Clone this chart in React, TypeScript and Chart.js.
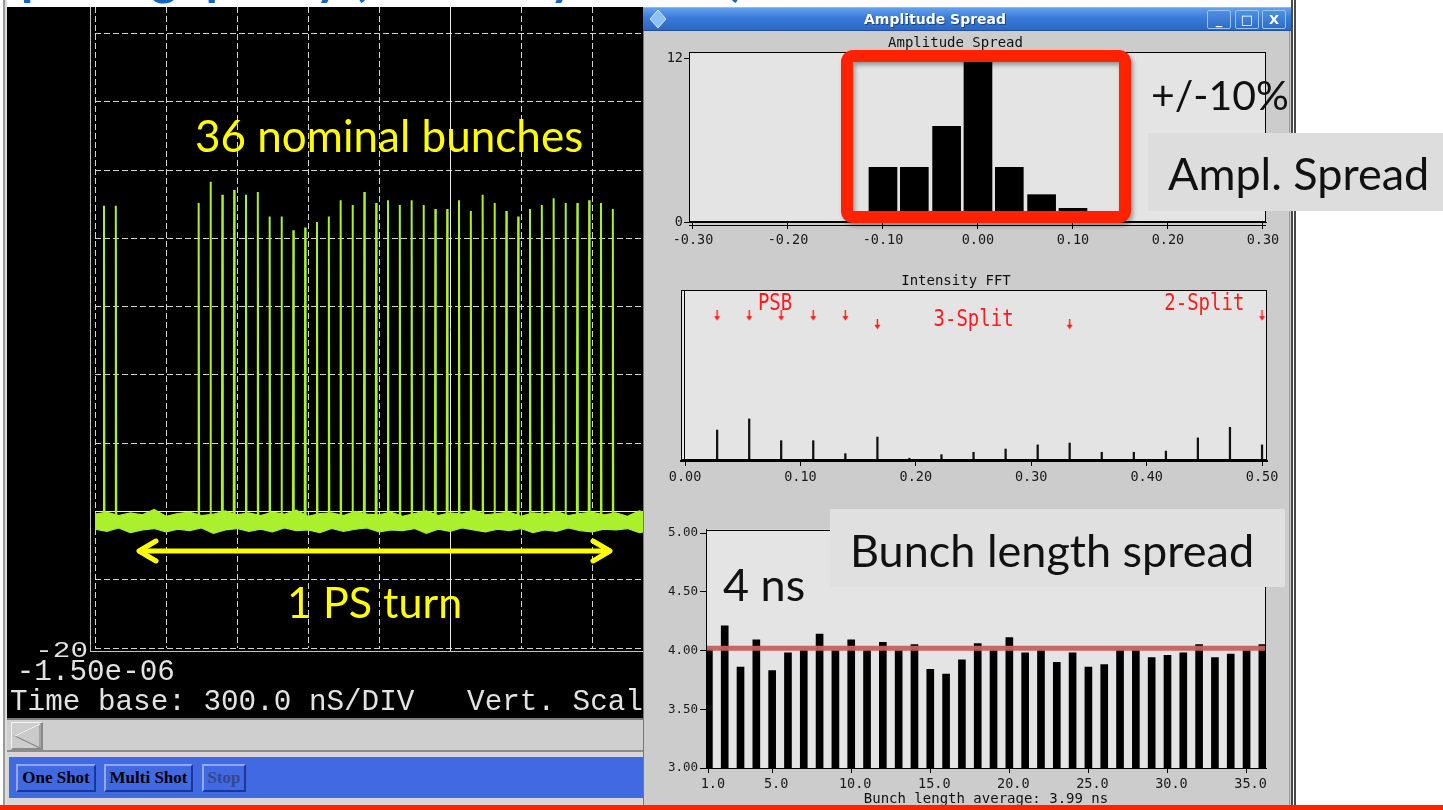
import React, { useEffect, useRef } from 'react';
import { Chart, registerables } from 'chart.js';

Chart.register(...registerables);

const MONO = '"DejaVu Sans Mono", monospace';
const SCOPE_FONT = '"Liberation Mono", monospace';
const SLIDE_FONT = 'Lato, "Open Sans", sans-serif';
const TRACE = '#aaf02c';

// ---------------- Oscilloscope: bunch train over one PS turn ----------------
const bunchTimesNs = [
  -1462, -1412, -1062, -1012, -962, -912, -862, -812, -762, -712, -662, -612, -562,
  -512, -462, -412, -362, -312, -262, -212, -162, -112, -62, -12, 38, 88, 138, 188,
  238, 288, 338, 388, 438, 488, 538, 588, 638, 688,
];
const bunchPeaks = [
  44.8, 44.8, 45.2, 48.3, 46.4, 47.1, 46.4, 46.8, 43.2, 43.2, 41.2, 41.6, 42.4, 43.2,
  45.6, 44.9, 46.8, 45.2, 45.6, 44.9, 45.6, 44.9, 44.3, 44.3, 45.6, 44.0, 46.4, 45.2,
  44.0, 43.2, 44.3, 44.9, 45.9, 45.2, 45.2, 45.6, 45.2, 44.3,
];
const spikeBase = -1.4;
const noiseTimesNs = [
  -1500, -1450, -1400, -1350, -1300, -1250, -1200, -1150, -1100, -1050, -1000, -950, -900,
  -850, -800, -750, -700, -650, -600, -550, -500, -450, -400, -350, -300, -250, -200, -150,
  -100, -50, 0, 50, 100, 150, 200, 250, 300, 350, 400, 450, 500, 550, 600, 650, 700, 750,
  800, 850, 900, 950, 1000, 1050, 1100, 1150, 1200, 1250, 1300, 1350, 1400, 1450, 1500,
];
const noiseHigh = [
  -0.4, -0.1, -0.6, -0.2, -0.5, 0.3, -0.7, -0.3, -0.1, -0.6,
  -0.4, 0.1, -0.5, -0.2, -0.6, -0.1, -0.4, 0.2, -0.7, -0.3,
  -0.2, -0.6, 0.0, -0.4, -0.5, -0.1, -0.7, -0.3, 0.1, -0.6,
  -0.2, -0.4, 0.2, -0.5, -0.3, -0.1, -0.7, -0.2, -0.4, 0.0,
  -0.6, -0.3, -0.1, -0.5, -0.2, -0.7, 0.1, -0.4, -0.3, -0.6,
  -0.1, -0.5, -0.2, -0.4, 0.0, -0.7, -0.3, -0.1, -0.6, -0.2, -0.4,
];
const noiseLow = [
  -2.6, -2.9, -2.4, -3.1, -2.7, -2.5, -3.0, -2.6, -2.8, -2.4,
  -3.2, -2.7, -2.5, -2.9, -2.6, -3.0, -2.4, -2.8, -2.7, -3.1,
  -2.5, -2.9, -2.6, -2.4, -3.0, -2.7, -2.8, -2.5, -3.2, -2.6,
  -2.9, -2.4, -2.7, -3.0, -2.6, -2.8, -2.5, -3.1, -2.7, -2.9,
  -2.4, -2.8, -3.0, -2.6, -2.7, -2.5, -3.1, -2.8, -2.6, -2.9,
  -2.5, -3.0, -2.7, -2.4, -2.9, -2.6, -3.2, -2.7, -2.5, -2.8, -2.6,
];

// ---------------- Amplitude spread histogram ----------------
const ampBinCenters = [-0.1, -0.067, -0.033, 0.0, 0.033, 0.067, 0.1];
const ampCounts = [4, 4, 7, 12, 4, 2, 1];
const ampTicks = [-0.3, -0.2, -0.1, 0.0, 0.1, 0.2, 0.3];
const ampCountTicks = [0, 12];

// ---------------- Intensity FFT ----------------
const fftFreq = [
  0.0278, 0.0556, 0.0833, 0.1111, 0.1389, 0.1667, 0.1944, 0.2222, 0.25,
  0.2778, 0.3056, 0.3333, 0.3611, 0.3889, 0.4167, 0.4444, 0.4722, 0.5,
];
const fftAmp = [18.1, 24.6, 11.9, 11.9, 4.3, 14.0, 1.6, 3.7, 5.1, 7.0, 9.4, 10.5, 5.1, 5.1, 5.8, 13.5, 19.7, 9.4];
const fftTicks = [0.0, 0.1, 0.2, 0.3, 0.4, 0.5];
const fftMarkFreq = [0.0278, 0.0556, 0.0833, 0.1111, 0.1389, 0.1667, 0.3333, 0.5];
const fftMarkLevel = [85, 85, 85, 85, 85, 80, 80, 85];
const fftLabelText = ['PSB', '3-Split', '2-Split'];
const fftLabelFreq = [0.078, 0.25, 0.45];
const fftLabelLevel = [88.3, 78.9, 88.3];

// ---------------- Bunch length ----------------
const bunchIndex = [
  1, 2, 3, 4, 5, 6, 7, 8, 9, 10, 11, 12, 13, 14, 15, 16, 17, 18,
  19, 20, 21, 22, 23, 24, 25, 26, 27, 28, 29, 30, 31, 32, 33, 34, 35, 36,
];
const bunchLengthNs = [
  4.01, 4.21, 3.86, 4.09, 3.83, 3.98, 4.0, 4.14, 4.0, 4.09, 4.0, 4.07, 4.0, 4.05, 3.84, 3.8, 3.92, 4.06,
  4.0, 4.11, 3.98, 4.0, 3.9, 3.98, 3.86, 3.88, 4.0, 4.0, 3.94, 3.96, 3.98, 4.05, 3.94, 3.97, 4.0, 4.05,
];
const bunchXTicks = [1, 5, 10, 15, 20, 25, 30, 35];
const bunchYTicks = [3.0, 3.5, 4.0, 4.5, 5.0];
const nominalLengthNs = 4.02;
const nominalLineSpan = [0.6, 36.4];

const framePlugin = {
  id: 'frame',
  beforeDraw(chart: any, _a: any, opts: any) {
    const { ctx, chartArea: a } = chart;
    if (opts && opts.fill) {
      ctx.save();
      ctx.fillStyle = opts.fill;
      ctx.fillRect(a.left, a.top, a.right - a.left, a.bottom - a.top);
      ctx.restore();
    }
  },
  afterDraw(chart: any, _a: any, opts: any) {
    const { ctx, chartArea: a } = chart;
    if (!opts || !opts.stroke) return;
    ctx.save();
    ctx.strokeStyle = opts.stroke;
    ctx.lineWidth = 1;
    ctx.strokeRect(Math.round(a.left) + 0.5, Math.round(a.top) + 0.5, Math.round(a.right - a.left) - 1, Math.round(a.bottom - a.top) - 1);
    if (opts.extraLeft) {
      const xx = Math.round(a.left) + opts.extraLeft + 0.5;
      ctx.beginPath();
      ctx.moveTo(xx, a.top);
      ctx.lineTo(xx, a.bottom);
      ctx.stroke();
    }
    if (opts.extraBottom) {
      const yy = Math.round(a.bottom) + opts.extraBottom + 0.5;
      ctx.beginPath();
      ctx.moveTo(a.left, yy);
      ctx.lineTo(a.right, yy);
      ctx.stroke();
    }
    ctx.restore();
  },
};

const scopePlugin = {
  id: 'scopeFrame',
  beforeDatasetsDraw(chart: any) {
    const { ctx, chartArea: a, scales } = chart;
    const line = (x1: number, y1: number, x2: number, y2: number) => {
      ctx.beginPath();
      ctx.moveTo(x1, y1);
      ctx.lineTo(x2, y2);
      ctx.stroke();
    };
    ctx.save();
    ctx.lineWidth = 1;
    ctx.strokeStyle = '#ececec';
    const y0 = Math.round(scales.y.getPixelForValue(0)) + 0.5;
    line(a.left, y0, a.right, y0);
    const xc = Math.round(scales.x.getPixelForValue(0)) + 0.5;
    line(xc, a.top, xc, a.bottom + 4);
    ctx.strokeStyle = '#c4c4c4';
    line(Math.round(a.left) - 4.5, a.top, Math.round(a.left) - 4.5, a.bottom + 4);
    line(Math.round(a.left) - 5, Math.round(a.bottom) + 3.5, a.right, Math.round(a.bottom) + 3.5);
    ctx.restore();
  },
};

const fftLabelPlugin = {
  id: 'fftLabels',
  afterDatasetsDraw(chart: any) {
    const { ctx, scales } = chart;
    ctx.save();
    ctx.fillStyle = '#ff1a1a';
    ctx.font = `19px ${MONO}`;
    ctx.textAlign = 'center';
    ctx.textBaseline = 'alphabetic';
    fftLabelText.forEach((t, i) => {
      const px = scales.x.getPixelForValue(fftLabelFreq[i]);
      const py = scales.y.getPixelForValue(fftLabelLevel[i]);
      ctx.save();
      ctx.translate(px, py);
      ctx.scale(1, 1.18);
      ctx.fillText(t, 0, 0);
      ctx.restore();
    });
    ctx.restore();
  },
};

function makeArrow(color: string) {
  const c = document.createElement('canvas');
  c.width = 9;
  c.height = 11;
  const g = c.getContext('2d')!;
  g.strokeStyle = color;
  g.lineWidth = 1.4;
  g.beginPath();
  g.moveTo(4.5, 0);
  g.lineTo(4.5, 7);
  g.stroke();
  g.fillStyle = color;
  g.beginPath();
  g.moveTo(1.5, 6);
  g.lineTo(7.5, 6);
  g.lineTo(4.5, 10.5);
  g.closePath();
  g.fill();
  return c;
}

const tickFont = (size: number) => ({ family: MONO, size, lineHeight: 1.2 });

export default function App() {
  const scopeRef = useRef<HTMLCanvasElement>(null);
  const ampRef = useRef<HTMLCanvasElement>(null);
  const fftRef = useRef<HTMLCanvasElement>(null);
  const lenRef = useRef<HTMLCanvasElement>(null);

  useEffect(() => {
    document.body.style.margin = '0';
    const charts: Chart[] = [];

    // ---- Scope ----
    const spikePoints: { x: number; y: number }[] = [];
    bunchTimesNs.forEach((t, i) => {
      spikePoints.push({ x: t - 2, y: spikeBase }, { x: t, y: bunchPeaks[i] }, { x: t + 2, y: spikeBase });
    });
    const gridScope = { color: '#d2d2d2', lineWidth: 1, drawTicks: false };
    charts.push(
      new Chart(scopeRef.current!, {
        type: 'line',
        data: {
          datasets: [
            {
              data: noiseTimesNs.map((t, i) => ({ x: t, y: noiseHigh[i] })),
              borderColor: TRACE,
              backgroundColor: TRACE,
              borderWidth: 1.2,
              pointRadius: 0,
              fill: '+1',
            },
            {
              data: noiseTimesNs.map((t, i) => ({ x: t, y: noiseLow[i] })),
              borderColor: TRACE,
              borderWidth: 1.2,
              pointRadius: 0,
              fill: false,
            },
            {
              data: spikePoints,
              borderColor: TRACE,
              borderWidth: 2,
              pointRadius: 0,
              fill: false,
            },
          ],
        } as any,
        options: {
          animation: false,
          responsive: false,
          devicePixelRatio: 1,
          events: [],
          layout: { padding: { left: 0, right: 42, top: 0, bottom: 0 } },
          plugins: { legend: { display: false }, tooltip: { enabled: false } },
          scales: {
            x: {
              type: 'linear',
              min: -1500,
              max: 1500,
              ticks: { display: false, stepSize: 300 },
              grid: gridScope,
              border: { display: false, dash: [6, 3] },
              afterFit: (s: any) => { s.height = 20; },
            },
            y: {
              type: 'linear',
              min: -20,
              max: 73.9,
              ticks: { display: false, stepSize: 10, includeBounds: false },
              grid: gridScope,
              border: { display: false, dash: [6, 3] },
              afterFit: (s: any) => { s.width = 88; },
            },
          },
        } as any,
        plugins: [scopePlugin],
      })
    );

    // ---- Amplitude spread ----
    charts.push(
      new Chart(ampRef.current!, {
        type: 'bar',
        data: {
          datasets: [
            {
              data: ampBinCenters.map((x, i) => ({ x, y: ampCounts[i] })),
              backgroundColor: '#000',
              borderWidth: 0,
              barThickness: 28,
              clip: 0,
            },
          ],
        } as any,
        options: {
          animation: false,
          responsive: false,
          devicePixelRatio: 1,
          events: [],
          layout: { padding: { left: 0, right: 24, top: 0, bottom: 0 } },
          plugins: {
            legend: { display: false },
            tooltip: { enabled: false },
            title: {
              display: true,
              text: 'Amplitude Spread',
              color: '#111',
              font: { family: MONO, size: 14, weight: 'normal', lineHeight: 1 },
              padding: { top: 3, bottom: 2 },
            },
            frame: { fill: '#e4e4e4', stroke: '#000', extraBottom: 3 },
          },
          scales: {
            x: {
              type: 'linear',
              offset: false,
              min: -0.3042,
              max: 0.3032,
              afterBuildTicks: (s: any) => { s.ticks = ampTicks.map((v) => ({ value: v })); },
              ticks: { callback: (v: any) => Number(v).toFixed(2), font: tickFont(13.5), color: '#1a1a1a', padding: 3, maxRotation: 0, autoSkip: false },
              grid: { offset: false, drawOnChartArea: false, drawTicks: true, tickLength: 7, color: '#000' },
              border: { display: true, color: '#000' },
              afterFit: (s: any) => { s.height = 32; },
            },
            y: {
              type: 'linear',
              min: 0,
              max: 12.44,
              afterBuildTicks: (s: any) => { s.ticks = ampCountTicks.map((v) => ({ value: v })); },
              ticks: { callback: (v: any) => String(v), font: tickFont(13.5), color: '#1a1a1a', padding: 1 },
              grid: { drawOnChartArea: false, drawTicks: true, tickLength: 5, color: '#000' },
              border: { display: true, color: '#000' },
              afterFit: (s: any) => { s.width = 44; },
            },
          },
        } as any,
        plugins: [framePlugin],
      })
    );

    // ---- Intensity FFT ----
    const arrow = makeArrow('#ff1a1a');
    charts.push(
      new Chart(fftRef.current!, {
        type: 'bar',
        data: {
          datasets: [
            {
              type: 'scatter',
              data: fftMarkFreq.map((x, i) => ({ x, y: fftMarkLevel[i] })),
              pointStyle: arrow,
              pointRadius: 5,
              showLine: false,
              order: 0,
            },
            {
              data: fftFreq.map((x, i) => ({ x, y: fftAmp[i] })),
              backgroundColor: '#111',
              borderWidth: 0,
              barThickness: 1.6,
              clip: 0,
              order: 1,
            },
          ],
        } as any,
        options: {
          animation: false,
          responsive: false,
          devicePixelRatio: 1,
          events: [],
          layout: { padding: { left: 0, right: 23, top: 0, bottom: 0 } },
          plugins: {
            legend: { display: false },
            tooltip: { enabled: false },
            title: {
              display: true,
              text: 'Intensity FFT',
              color: '#111',
              font: { family: MONO, size: 14, weight: 'normal', lineHeight: 1 },
              padding: { top: 3, bottom: 2 },
            },
            frame: { fill: '#e4e4e4', stroke: '#000', extraLeft: 3, extraBottom: -2 },
          },
          scales: {
            x: {
              type: 'linear',
              offset: false,
              min: -0.0035,
              max: 0.5043,
              afterBuildTicks: (s: any) => { s.ticks = fftTicks.map((v) => ({ value: v })); },
              ticks: { callback: (v: any) => Number(v).toFixed(2), font: tickFont(13.5), color: '#1a1a1a', padding: 3, maxRotation: 0, autoSkip: false },
              grid: { offset: false, drawOnChartArea: false, drawTicks: true, tickLength: 5, color: '#000' },
              border: { display: true, color: '#000', width: 2 },
              afterFit: (s: any) => { s.height = 26; },
            },
            y: {
              type: 'linear',
              min: 0,
              max: 100,
              ticks: { display: false },
              grid: { drawOnChartArea: false, drawTicks: false },
              border: { display: true, color: '#000' },
              afterFit: (s: any) => { s.width = 36; },
            },
          },
        } as any,
        plugins: [framePlugin, fftLabelPlugin],
      })
    );

    // ---- Bunch length ----
    charts.push(
      new Chart(lenRef.current!, {
        type: 'bar',
        data: {
          datasets: [
            {
              type: 'line',
              data: nominalLineSpan.map((x) => ({ x, y: nominalLengthNs })),
              borderColor: 'rgba(201,96,92,0.95)',
              borderWidth: 5,
              pointRadius: 0,
              order: 0,
            },
            {
              data: bunchIndex.map((x, i) => ({ x, y: bunchLengthNs[i] })),
              backgroundColor: '#000',
              borderWidth: 0,
              barThickness: 7,
              clip: 0,
              order: 1,
            },
          ],
        } as any,
        options: {
          animation: false,
          responsive: false,
          devicePixelRatio: 1,
          events: [],
          layout: { padding: { left: 0, right: 24, top: 9, bottom: 0 } },
          plugins: {
            legend: { display: false },
            tooltip: { enabled: false },
            frame: { fill: '#e4e4e4', stroke: '#000' },
          },
          scales: {
            x: {
              type: 'linear',
              offset: false,
              min: 0.817,
              max: 36.23,
              afterBuildTicks: (s: any) => { s.ticks = bunchXTicks.map((v) => ({ value: v })); },
              ticks: { callback: (v: any) => Number(v).toFixed(1), font: tickFont(13.5), color: '#1a1a1a', padding: 3, maxRotation: 0, autoSkip: false, labelOffset: 4 },
              grid: { offset: false, drawOnChartArea: false, drawTicks: true, tickLength: 5, color: '#000' },
              border: { display: true, color: '#000' },
              title: {
                display: true,
                text: 'Bunch length average: 3.99 ns',
                color: '#111',
                font: { family: MONO, size: 14, lineHeight: 1.2 },
                padding: { top: 0, bottom: 2 },
              },
              afterFit: (s: any) => { s.height = 42; },
            },
            y: {
              type: 'linear',
              min: 3.0,
              max: 5.03,
              afterBuildTicks: (s: any) => { s.ticks = bunchYTicks.map((v) => ({ value: v })); },
              ticks: { callback: (v: any) => Number(v).toFixed(2), font: tickFont(12.5), color: '#1a1a1a', padding: 2 },
              grid: { drawOnChartArea: false, drawTicks: true, tickLength: 6, color: '#000' },
              border: { display: true, color: '#000' },
              afterFit: (s: any) => { s.width = 61; },
            },
          },
        } as any,
        plugins: [framePlugin],
      })
    );

    return () => charts.forEach((c) => c.destroy());
  }, []);

  const abs = (l: number, t: number, w: number, h: number, extra: React.CSSProperties = {}): React.CSSProperties => ({
    position: 'absolute', left: l, top: t, width: w, height: h, ...extra,
  });

  const btn = (label: string, l: number, w: number, disabled = false) => (
    <div
      style={abs(l, 764, w, 28, {
        boxSizing: 'border-box',
        background: '#4169e1',
        borderTop: '2px solid #8fa9f2',
        borderLeft: '2px solid #8fa9f2',
        borderBottom: '2px solid #1f3690',
        borderRight: '2px solid #1f3690',
        font: `bold 17px "Liberation Serif", serif`,
        color: disabled ? '#35488f' : '#000',
        textAlign: 'center',
        lineHeight: '24px',
        whiteSpace: 'nowrap',
      })}
    >
      {label}
    </div>
  );

  const NB = '\u00a0';

  return (
    <div style={{ position: 'relative', width: 1443, height: 810, overflow: 'hidden', background: '#fff' }}>
      <style>{'body{margin:0}'}</style>

      {/* left application: oscilloscope */}
      <div style={abs(3, 0, 2, 810, { background: '#9a9a9a' })} />
      <div style={abs(5, 0, 2, 810, { background: '#dcdcdc' })} />
      <div style={abs(7, 7, 636, 711, { background: '#000', overflow: 'hidden' })}>
        <canvas ref={scopeRef} width={840} height={661} style={{ position: 'absolute', left: 0, top: 0, width: 840, height: 661 }} />
        <svg width={636} height={711} style={{ position: 'absolute', left: 0, top: 0 }}>
          <g fontFamily={SCOPE_FONT} fill="#e2e2e2" fontSize={29.3}>
            <text transform="translate(81,650) scale(1,0.78)" textAnchor="end">-20</text>
            <text x={9.7} y={673}>-1.50e-06</text>
            <text x={3} y={703}>{`Time base: 300.0 nS/DIV${NB}${NB}${NB}Vert. Scale`}</text>
          </g>
        </svg>
      </div>
      {/* scrollbar + button bar */}
      <div style={abs(7, 718, 636, 34, { boxSizing: 'border-box', background: '#cfcfcf', borderTop: '2px solid #7c7c7c', borderBottom: '2px solid #8c8c8c' })} />
      <div style={abs(11, 722, 32, 28, { boxSizing: 'border-box', background: '#cdcdcd', borderTop: '1px solid #f4f4f4', borderLeft: '1px solid #f4f4f4', borderBottom: '2px solid #8a8a8a', borderRight: '2px solid #8a8a8a' })} />
      <svg width={40} height={40} style={{ position: 'absolute', left: 7, top: 716 }}>
        <polygon points="8,20 33,8 33,32" fill="#cacaca" stroke="#8a8a8a" strokeWidth={1.2} />
        <polyline points="33,8 8,20" fill="none" stroke="#fafafa" strokeWidth={1.2} />
      </svg>
      <div style={abs(7, 752, 636, 53, { background: '#d6d6d6' })} />
      <div style={abs(9, 757, 634, 41, { background: '#4169e1' })} />
      {btn('One Shot', 16, 80)}
      {btn('Multi Shot', 104, 89)}
      {btn('Stop', 202, 44, true)}

      {/* right application window */}
      <div style={abs(643, 7, 650, 803, { background: '#cccccc' })} />
      <div style={abs(643, 7, 1, 803, { background: '#777' })} />
      <div style={abs(1289, 7, 1, 803, { background: '#9a9a9a' })} />
      <div style={abs(1291, 0, 2, 810, { background: '#4a4a4a' })} />
      <div style={abs(1294, 0, 2, 810, { background: '#4a4a4a' })} />
      <div
        style={abs(643, 7, 648, 24, {
          boxSizing: 'border-box',
          background: 'linear-gradient(#63a0ec, #3a7ad8 45%, #2c68c6)',
          borderBottom: '1px solid #1d4f9e',
          borderTop: '1px solid #8cbcf5',
        })}
      />
      <svg width={20} height={20} style={{ position: 'absolute', left: 648, top: 9 }}>
        <polygon points="10,1 18,10 10,19 2,10" fill="#8ec0f6" stroke="#d6eaff" strokeWidth={1} />
      </svg>
      <div style={abs(665, 9, 540, 20, { textAlign: 'center', color: '#fff', font: 'bold 14px "DejaVu Sans", sans-serif', lineHeight: '20px', textShadow: '1px 1px 0 #1b427f' })}>
        Amplitude Spread
      </div>
      {[1207, 1235, 1262].map((l, i) => (
        <div
          key={l}
          style={abs(l, 10, 24, 19, {
            boxSizing: 'border-box',
            background: 'linear-gradient(#4f8fe2, #2f6cc8)',
            border: '1px solid #9cc2f4',
            borderRadius: 2,
            color: '#fff',
            font: 'bold 13px "DejaVu Sans", sans-serif',
            textAlign: 'center',
            lineHeight: '17px',
          })}
        >
          {i === 0 ? '_' : i === 1 ? '□' : 'X'}
        </div>
      ))}
      <canvas ref={ampRef} width={645} height={221} style={{ position: 'absolute', left: 645, top: 33, width: 645, height: 221 }} />
      <canvas ref={fftRef} width={645} height={216} style={{ position: 'absolute', left: 645, top: 271, width: 645, height: 216 }} />
      <canvas ref={lenRef} width={645} height={290} style={{ position: 'absolute', left: 645, top: 520, width: 645, height: 290 }} />

      {/* slide annotations */}
      <svg width={1443} height={810} style={{ position: 'absolute', left: 0, top: 0, pointerEvents: 'none' }}>
        <defs>
          <filter id="sh" x="-10%" y="-10%" width="130%" height="130%">
            <feDropShadow dx="2" dy="3" stdDeviation="2" floodColor="#000" floodOpacity="0.35" />
          </filter>
        </defs>
        <text x={-6} y={-5} fontFamily={SLIDE_FONT} fontWeight={700} fontSize={50} fill="#1565c0">
          Splitting quality (bunch-by-bunch)
        </text>
        <g fontFamily={SLIDE_FONT}>
          <text x={195} y={152} fill="#ffff00" fontSize={44}>36 nominal bunches</text>
          <text x={287} y={618} fill="#ffff00" fontSize={43}>1 PS turn</text>
          <text x={1151} y={110} fill="#111" fontSize={41}>+/-10%</text>
        </g>
        <g stroke="#ffff00" strokeWidth={5} strokeLinecap="round" strokeLinejoin="round" fill="none">
          <line x1={140} y1={551} x2={609} y2={551} />
          <polyline points="156,541 139,551 156,561" />
          <polyline points="593,541 610,551 593,561" />
        </g>
        <rect x={847} y={56} width={278} height={161} rx={6} ry={6} fill="none" stroke="#ff2200" strokeWidth={12} filter="url(#sh)" />
        <rect x={1148} y={133} width={295} height={78} fill="#dddddd" />
        <text x={1168} y={190} fontFamily={SLIDE_FONT} fontSize={45} fill="#111">Ampl. Spread</text>
        <rect x={830} y={509} width={455} height={78} fill="#e0e0e0" />
        <text x={850} y={567} fontFamily={SLIDE_FONT} fontSize={45} fill="#111">Bunch length spread</text>
        <text x={723} y={601} fontFamily={SLIDE_FONT} fontSize={45} fill="#111">4 ns</text>
        <rect x={0} y={805} width={1443} height={5} fill="#ff2200" />
      </svg>
    </div>
  );
}
